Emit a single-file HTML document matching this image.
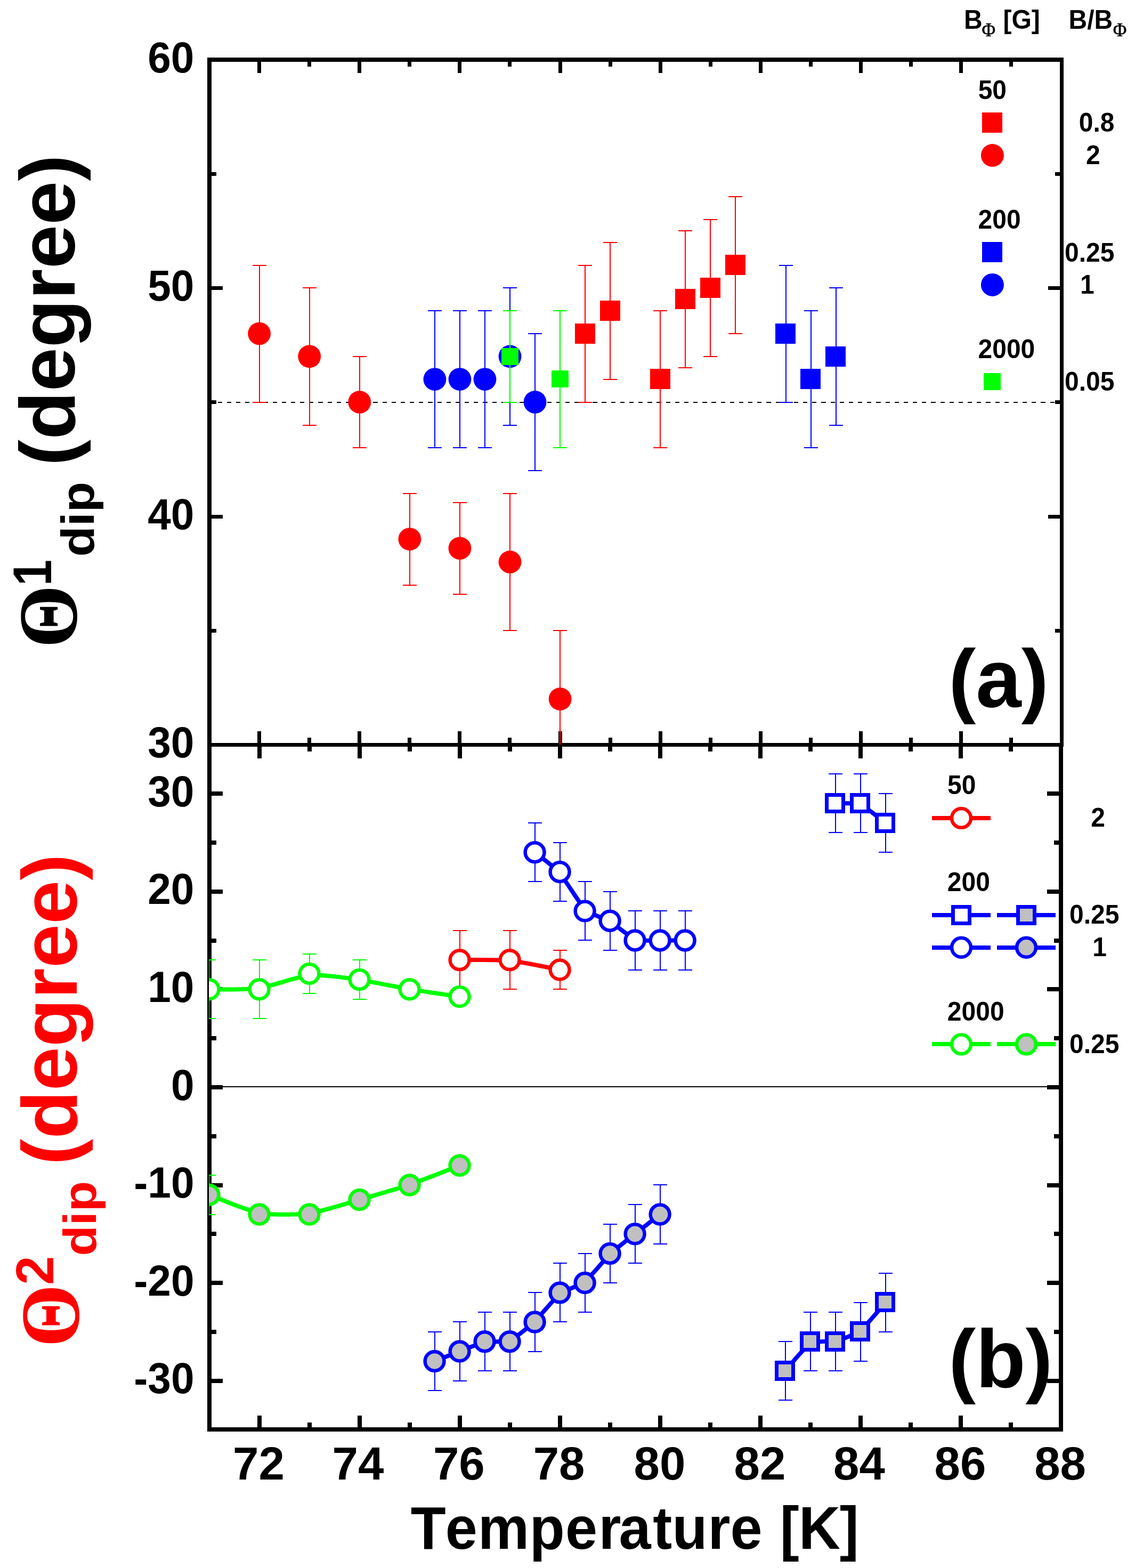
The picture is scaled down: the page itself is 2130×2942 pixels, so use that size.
<!DOCTYPE html>
<html lang="en"><head><meta charset="utf-8"><title>Dip angle versus temperature</title>
<style>html,body{margin:0;padding:0;background:#fff}body{width:2130px;height:2942px;overflow:hidden}svg{display:block}text{font-family:"Liberation Sans",sans-serif;font-weight:bold}.sym{font-family:"Liberation Serif",serif}.phi{font-family:"Liberation Serif",serif;font-weight:normal}.crisp{shape-rendering:crispEdges}</style></head><body>
<svg width="2130" height="2942" viewBox="0 0 2130 2942">
<rect width="2130" height="2942" fill="#fff"/>
<defs><clipPath id="c1"><rect x="392" y="112" width="1601" height="1285.5"/></clipPath><clipPath id="c2"><rect x="392" y="1397.5" width="1600" height="1284.5"/></clipPath></defs>
<g class="crisp" fill="#000">
<rect x="389" y="108" width="8" height="2578"/>
<rect x="1989" y="108" width="7" height="1293"/>
<rect x="1987" y="1394" width="8" height="1292"/>
<rect x="389" y="108" width="1607" height="8"/>
<rect x="389" y="1394" width="1607" height="7"/>
<rect x="389" y="2678" width="1606" height="8"/>
<rect x="483" y="116" width="7" height="21"/>
<rect x="483" y="1372" width="7" height="22"/>
<rect x="483" y="1401" width="8" height="22"/>
<rect x="483" y="2656" width="8" height="22"/>
<rect x="577" y="116" width="7" height="9"/>
<rect x="577" y="1384" width="7" height="10"/>
<rect x="577" y="1401" width="8" height="9"/>
<rect x="577" y="2669" width="8" height="9"/>
<rect x="671" y="116" width="7" height="21"/>
<rect x="671" y="1372" width="7" height="22"/>
<rect x="671" y="1401" width="8" height="22"/>
<rect x="671" y="2656" width="8" height="22"/>
<rect x="765" y="116" width="7" height="9"/>
<rect x="765" y="1384" width="7" height="10"/>
<rect x="765" y="1401" width="8" height="9"/>
<rect x="765" y="2669" width="8" height="9"/>
<rect x="859" y="116" width="7" height="21"/>
<rect x="859" y="1372" width="7" height="22"/>
<rect x="859" y="1401" width="8" height="22"/>
<rect x="859" y="2656" width="8" height="22"/>
<rect x="953" y="116" width="7" height="9"/>
<rect x="953" y="1384" width="7" height="10"/>
<rect x="953" y="1401" width="8" height="9"/>
<rect x="953" y="2669" width="8" height="9"/>
<rect x="1048" y="116" width="7" height="21"/>
<rect x="1048" y="1372" width="7" height="22"/>
<rect x="1047" y="1401" width="8" height="22"/>
<rect x="1047" y="2656" width="8" height="22"/>
<rect x="1142" y="116" width="7" height="9"/>
<rect x="1142" y="1384" width="7" height="10"/>
<rect x="1141" y="1401" width="8" height="9"/>
<rect x="1141" y="2669" width="8" height="9"/>
<rect x="1236" y="116" width="7" height="21"/>
<rect x="1236" y="1372" width="7" height="22"/>
<rect x="1235" y="1401" width="8" height="22"/>
<rect x="1235" y="2656" width="8" height="22"/>
<rect x="1330" y="116" width="7" height="9"/>
<rect x="1330" y="1384" width="7" height="10"/>
<rect x="1329" y="1401" width="8" height="9"/>
<rect x="1329" y="2669" width="8" height="9"/>
<rect x="1424" y="116" width="7" height="21"/>
<rect x="1424" y="1372" width="7" height="22"/>
<rect x="1423" y="1401" width="8" height="22"/>
<rect x="1423" y="2656" width="8" height="22"/>
<rect x="1518" y="116" width="7" height="9"/>
<rect x="1518" y="1384" width="7" height="10"/>
<rect x="1517" y="1401" width="8" height="9"/>
<rect x="1517" y="2669" width="8" height="9"/>
<rect x="1612" y="116" width="7" height="21"/>
<rect x="1612" y="1372" width="7" height="22"/>
<rect x="1611" y="1401" width="8" height="22"/>
<rect x="1611" y="2656" width="8" height="22"/>
<rect x="1706" y="116" width="7" height="9"/>
<rect x="1706" y="1384" width="7" height="10"/>
<rect x="1705" y="1401" width="8" height="9"/>
<rect x="1705" y="2669" width="8" height="9"/>
<rect x="1800" y="116" width="7" height="21"/>
<rect x="1800" y="1372" width="7" height="22"/>
<rect x="1799" y="1401" width="8" height="22"/>
<rect x="1799" y="2656" width="8" height="22"/>
<rect x="1894" y="116" width="7" height="9"/>
<rect x="1894" y="1384" width="7" height="10"/>
<rect x="1893" y="1401" width="8" height="9"/>
<rect x="1893" y="2669" width="8" height="9"/>
<rect x="397" y="1180" width="9" height="7"/>
<rect x="1980" y="1180" width="9" height="7"/>
<rect x="397" y="966" width="21" height="7"/>
<rect x="1967" y="966" width="22" height="7"/>
<rect x="397" y="751" width="9" height="7"/>
<rect x="1980" y="751" width="9" height="7"/>
<rect x="397" y="537" width="21" height="7"/>
<rect x="1967" y="537" width="22" height="7"/>
<rect x="397" y="323" width="9" height="7"/>
<rect x="1980" y="323" width="9" height="7"/>
<rect x="397" y="2587" width="21" height="8"/>
<rect x="1965" y="2587" width="22" height="8"/>
<rect x="397" y="2495" width="9" height="8"/>
<rect x="1978" y="2495" width="9" height="8"/>
<rect x="397" y="2403" width="21" height="8"/>
<rect x="1965" y="2403" width="22" height="8"/>
<rect x="397" y="2311" width="9" height="8"/>
<rect x="1978" y="2311" width="9" height="8"/>
<rect x="397" y="2220" width="21" height="8"/>
<rect x="1965" y="2220" width="22" height="8"/>
<rect x="397" y="2128" width="9" height="8"/>
<rect x="1978" y="2128" width="9" height="8"/>
<rect x="397" y="2036" width="21" height="8"/>
<rect x="1965" y="2036" width="22" height="8"/>
<rect x="397" y="1944" width="9" height="8"/>
<rect x="1978" y="1944" width="9" height="8"/>
<rect x="397" y="1852" width="21" height="8"/>
<rect x="1965" y="1852" width="22" height="8"/>
<rect x="397" y="1761" width="9" height="8"/>
<rect x="1978" y="1761" width="9" height="8"/>
<rect x="397" y="1669" width="21" height="8"/>
<rect x="1965" y="1669" width="22" height="8"/>
<rect x="397" y="1577" width="9" height="8"/>
<rect x="1978" y="1577" width="9" height="8"/>
<rect x="397" y="1485" width="21" height="8"/>
<rect x="1965" y="1485" width="22" height="8"/>
<rect x="397" y="2038" width="1590" height="2"/>
<rect x="397" y="754" width="3" height="2"/>
<rect x="409" y="754" width="8" height="2"/>
<rect x="426" y="754" width="8" height="2"/>
<rect x="443" y="754" width="8" height="2"/>
<rect x="460" y="754" width="8" height="2"/>
<rect x="477" y="754" width="8" height="2"/>
<rect x="494" y="754" width="9" height="2"/>
<rect x="512" y="754" width="8" height="2"/>
<rect x="529" y="754" width="8" height="2"/>
<rect x="546" y="754" width="8" height="2"/>
<rect x="563" y="754" width="8" height="2"/>
<rect x="580" y="754" width="8" height="2"/>
<rect x="597" y="754" width="9" height="2"/>
<rect x="615" y="754" width="8" height="2"/>
<rect x="632" y="754" width="8" height="2"/>
<rect x="649" y="754" width="8" height="2"/>
<rect x="666" y="754" width="8" height="2"/>
<rect x="683" y="754" width="8" height="2"/>
<rect x="700" y="754" width="9" height="2"/>
<rect x="718" y="754" width="8" height="2"/>
<rect x="735" y="754" width="8" height="2"/>
<rect x="752" y="754" width="8" height="2"/>
<rect x="769" y="754" width="8" height="2"/>
<rect x="786" y="754" width="8" height="2"/>
<rect x="803" y="754" width="9" height="2"/>
<rect x="821" y="754" width="8" height="2"/>
<rect x="838" y="754" width="8" height="2"/>
<rect x="855" y="754" width="8" height="2"/>
<rect x="872" y="754" width="8" height="2"/>
<rect x="889" y="754" width="8" height="2"/>
<rect x="906" y="754" width="9" height="2"/>
<rect x="924" y="754" width="8" height="2"/>
<rect x="941" y="754" width="8" height="2"/>
<rect x="958" y="754" width="8" height="2"/>
<rect x="975" y="754" width="8" height="2"/>
<rect x="992" y="754" width="8" height="2"/>
<rect x="1009" y="754" width="9" height="2"/>
<rect x="1027" y="754" width="8" height="2"/>
<rect x="1044" y="754" width="8" height="2"/>
<rect x="1061" y="754" width="8" height="2"/>
<rect x="1078" y="754" width="8" height="2"/>
<rect x="1095" y="754" width="8" height="2"/>
<rect x="1112" y="754" width="9" height="2"/>
<rect x="1129" y="754" width="9" height="2"/>
<rect x="1147" y="754" width="8" height="2"/>
<rect x="1164" y="754" width="8" height="2"/>
<rect x="1181" y="754" width="8" height="2"/>
<rect x="1198" y="754" width="8" height="2"/>
<rect x="1215" y="754" width="9" height="2"/>
<rect x="1232" y="754" width="9" height="2"/>
<rect x="1250" y="754" width="8" height="2"/>
<rect x="1267" y="754" width="8" height="2"/>
<rect x="1284" y="754" width="8" height="2"/>
<rect x="1301" y="754" width="8" height="2"/>
<rect x="1318" y="754" width="9" height="2"/>
<rect x="1335" y="754" width="9" height="2"/>
<rect x="1353" y="754" width="8" height="2"/>
<rect x="1370" y="754" width="8" height="2"/>
<rect x="1387" y="754" width="8" height="2"/>
<rect x="1404" y="754" width="8" height="2"/>
<rect x="1421" y="754" width="8" height="2"/>
<rect x="1438" y="754" width="9" height="2"/>
<rect x="1456" y="754" width="8" height="2"/>
<rect x="1473" y="754" width="8" height="2"/>
<rect x="1490" y="754" width="8" height="2"/>
<rect x="1507" y="754" width="8" height="2"/>
<rect x="1524" y="754" width="8" height="2"/>
<rect x="1541" y="754" width="9" height="2"/>
<rect x="1559" y="754" width="8" height="2"/>
<rect x="1576" y="754" width="8" height="2"/>
<rect x="1593" y="754" width="8" height="2"/>
<rect x="1610" y="754" width="8" height="2"/>
<rect x="1627" y="754" width="8" height="2"/>
<rect x="1644" y="754" width="9" height="2"/>
<rect x="1662" y="754" width="8" height="2"/>
<rect x="1679" y="754" width="8" height="2"/>
<rect x="1696" y="754" width="8" height="2"/>
<rect x="1713" y="754" width="8" height="2"/>
<rect x="1730" y="754" width="8" height="2"/>
<rect x="1747" y="754" width="9" height="2"/>
<rect x="1765" y="754" width="8" height="2"/>
<rect x="1782" y="754" width="8" height="2"/>
<rect x="1799" y="754" width="8" height="2"/>
<rect x="1816" y="754" width="8" height="2"/>
<rect x="1833" y="754" width="8" height="2"/>
<rect x="1850" y="754" width="9" height="2"/>
<rect x="1868" y="754" width="8" height="2"/>
<rect x="1885" y="754" width="8" height="2"/>
<rect x="1902" y="754" width="8" height="2"/>
<rect x="1919" y="754" width="8" height="2"/>
<rect x="1936" y="754" width="8" height="2"/>
<rect x="1953" y="754" width="9" height="2"/>
<rect x="1971" y="754" width="8" height="2"/>
<rect x="1988" y="754" width="1" height="2"/>
</g>
<g clip-path="url(#c1)">
<g class="crisp">
<rect x="815" y="583" width="2" height="257" fill="#0000ff"/>
<rect x="803" y="582" width="26" height="2" fill="#0000ff"/>
<rect x="803" y="839" width="26" height="2" fill="#0000ff"/>
<rect x="862" y="583" width="2" height="257" fill="#0000ff"/>
<rect x="850" y="582" width="26" height="2" fill="#0000ff"/>
<rect x="850" y="839" width="26" height="2" fill="#0000ff"/>
<rect x="909" y="583" width="2" height="257" fill="#0000ff"/>
<rect x="897" y="582" width="26" height="2" fill="#0000ff"/>
<rect x="897" y="839" width="26" height="2" fill="#0000ff"/>
<rect x="956" y="540" width="2" height="258" fill="#0000ff"/>
<rect x="944" y="539" width="26" height="2" fill="#0000ff"/>
<rect x="944" y="797" width="26" height="2" fill="#0000ff"/>
<rect x="1003" y="626" width="2" height="257" fill="#0000ff"/>
<rect x="991" y="625" width="26" height="2" fill="#0000ff"/>
<rect x="991" y="882" width="26" height="2" fill="#0000ff"/>
</g>
<circle cx="815.9" cy="711.6" r="21.4" fill="#0000ff"/>
<circle cx="862.94" cy="711.6" r="21.4" fill="#0000ff"/>
<circle cx="909.99" cy="711.6" r="21.4" fill="#0000ff"/>
<circle cx="957.03" cy="668.75" r="21.4" fill="#0000ff"/>
<circle cx="1004.07" cy="754.45" r="21.4" fill="#0000ff"/>
<g class="crisp">
<rect x="1474" y="498" width="2" height="257" fill="#0000ff"/>
<rect x="1462" y="497" width="26" height="2" fill="#0000ff"/>
<rect x="1462" y="754" width="26" height="2" fill="#0000ff"/>
<rect x="1521" y="583" width="2" height="257" fill="#0000ff"/>
<rect x="1509" y="582" width="26" height="2" fill="#0000ff"/>
<rect x="1509" y="839" width="26" height="2" fill="#0000ff"/>
<rect x="1568" y="540" width="2" height="258" fill="#0000ff"/>
<rect x="1556" y="539" width="26" height="2" fill="#0000ff"/>
<rect x="1556" y="797" width="26" height="2" fill="#0000ff"/>
<rect x="1455" y="607" width="38" height="38" fill="#0000ff"/>
<rect x="1502" y="692" width="38" height="38" fill="#0000ff"/>
<rect x="1549" y="650" width="38" height="38" fill="#0000ff"/>
</g>
<g class="crisp">
<rect x="956" y="583" width="2" height="172" fill="#00ff00"/>
<rect x="944" y="582" width="26" height="2" fill="#00ff00"/>
<rect x="944" y="754" width="26" height="2" fill="#00ff00"/>
<rect x="1050" y="583" width="2" height="257" fill="#00ff00"/>
<rect x="1038" y="582" width="26" height="2" fill="#00ff00"/>
<rect x="1038" y="839" width="26" height="2" fill="#00ff00"/>
<rect x="941" y="653" width="32" height="32" fill="#00ff00"/>
<rect x="1035" y="695" width="32" height="32" fill="#00ff00"/>
</g>
<g class="crisp">
<rect x="1097" y="498" width="2" height="257" fill="#ff0000"/>
<rect x="1085" y="497" width="26" height="2" fill="#ff0000"/>
<rect x="1085" y="754" width="26" height="2" fill="#ff0000"/>
<rect x="1144" y="455" width="2" height="257" fill="#ff0000"/>
<rect x="1132" y="454" width="26" height="2" fill="#ff0000"/>
<rect x="1132" y="711" width="26" height="2" fill="#ff0000"/>
<rect x="1238" y="583" width="2" height="257" fill="#ff0000"/>
<rect x="1226" y="582" width="26" height="2" fill="#ff0000"/>
<rect x="1226" y="839" width="26" height="2" fill="#ff0000"/>
<rect x="1285" y="433" width="2" height="257" fill="#ff0000"/>
<rect x="1273" y="432" width="26" height="2" fill="#ff0000"/>
<rect x="1273" y="689" width="26" height="2" fill="#ff0000"/>
<rect x="1332" y="412" width="2" height="257" fill="#ff0000"/>
<rect x="1320" y="411" width="26" height="2" fill="#ff0000"/>
<rect x="1320" y="668" width="26" height="2" fill="#ff0000"/>
<rect x="1379" y="369" width="2" height="257" fill="#ff0000"/>
<rect x="1367" y="368" width="26" height="2" fill="#ff0000"/>
<rect x="1367" y="625" width="26" height="2" fill="#ff0000"/>
<rect x="1079" y="607" width="38" height="38" fill="#ff0000"/>
<rect x="1126" y="564" width="38" height="38" fill="#ff0000"/>
<rect x="1220" y="692" width="38" height="38" fill="#ff0000"/>
<rect x="1267" y="542" width="38" height="38" fill="#ff0000"/>
<rect x="1314" y="521" width="38" height="38" fill="#ff0000"/>
<rect x="1361" y="478" width="38" height="38" fill="#ff0000"/>
</g>
<g class="crisp">
<rect x="486" y="498" width="2" height="257" fill="#ff0000"/>
<rect x="474" y="497" width="26" height="2" fill="#ff0000"/>
<rect x="474" y="754" width="26" height="2" fill="#ff0000"/>
<rect x="580" y="540" width="2" height="258" fill="#ff0000"/>
<rect x="568" y="539" width="26" height="2" fill="#ff0000"/>
<rect x="568" y="797" width="26" height="2" fill="#ff0000"/>
<rect x="674" y="669" width="2" height="171" fill="#ff0000"/>
<rect x="662" y="668" width="26" height="2" fill="#ff0000"/>
<rect x="662" y="839" width="26" height="2" fill="#ff0000"/>
<rect x="768" y="926" width="2" height="172" fill="#ff0000"/>
<rect x="756" y="925" width="26" height="2" fill="#ff0000"/>
<rect x="756" y="1097" width="26" height="2" fill="#ff0000"/>
<rect x="862" y="943" width="2" height="172" fill="#ff0000"/>
<rect x="850" y="942" width="26" height="2" fill="#ff0000"/>
<rect x="850" y="1114" width="26" height="2" fill="#ff0000"/>
<rect x="956" y="926" width="2" height="257" fill="#ff0000"/>
<rect x="944" y="925" width="26" height="2" fill="#ff0000"/>
<rect x="944" y="1182" width="26" height="2" fill="#ff0000"/>
<rect x="1050" y="1183" width="2" height="257" fill="#ff0000"/>
<rect x="1038" y="1182" width="26" height="2" fill="#ff0000"/>
<rect x="1038" y="1439" width="26" height="2" fill="#ff0000"/>
</g>
<circle cx="486.59" cy="625.9" r="21.4" fill="#ff0000"/>
<circle cx="580.68" cy="668.75" r="21.4" fill="#ff0000"/>
<circle cx="674.76" cy="754.45" r="21.4" fill="#ff0000"/>
<circle cx="768.85" cy="1011.55" r="21.4" fill="#ff0000"/>
<circle cx="862.94" cy="1028.69" r="21.4" fill="#ff0000"/>
<circle cx="957.03" cy="1054.4" r="21.4" fill="#ff0000"/>
<circle cx="1051.12" cy="1311.5" r="21.4" fill="#ff0000"/>
</g>
<g clip-path="url(#c2)">
<g class="crisp">
<rect x="862" y="1746" width="2" height="110" fill="#ff0000"/>
<rect x="850" y="1745" width="26" height="2" fill="#ff0000"/>
<rect x="850" y="1855" width="26" height="2" fill="#ff0000"/>
<rect x="956" y="1746" width="2" height="110" fill="#ff0000"/>
<rect x="944" y="1745" width="26" height="2" fill="#ff0000"/>
<rect x="944" y="1855" width="26" height="2" fill="#ff0000"/>
<rect x="1050" y="1783" width="2" height="73" fill="#ff0000"/>
<rect x="1038" y="1782" width="26" height="2" fill="#ff0000"/>
<rect x="1038" y="1855" width="26" height="2" fill="#ff0000"/>
</g>
<polyline points="870.39,1801.17 874.11,1801.16 879.22,1801.12 885.51,1801.09 892.74,1801.06 900.67,1801.05 909.08,1801.07 917.73,1801.15 926.39,1801.28 934.84,1801.49 942.84,1801.79 950.16,1802.19 956.57,1802.7 962.98,1803.44 970.3,1804.47 978.3,1805.74 986.75,1807.18 995.41,1808.73 1004.07,1810.35 1012.47,1811.97 1020.41,1813.52 1027.63,1814.96 1033.92,1816.23 1039.03,1817.26 1042.75,1818" fill="none" stroke="#ff0000" stroke-width="8" stroke-linejoin="round"/>
<circle cx="862.56" cy="1801.17" r="17.95" fill="#fff" stroke="#ff0000" stroke-width="6.5"/>
<circle cx="956.57" cy="1801.17" r="17.95" fill="#fff" stroke="#ff0000" stroke-width="6.5"/>
<circle cx="1050.58" cy="1819.53" r="17.95" fill="#fff" stroke="#ff0000" stroke-width="6.5"/>
<g class="crisp">
<rect x="1003" y="1544" width="2" height="110" fill="#0000ff"/>
<rect x="991" y="1543" width="26" height="2" fill="#0000ff"/>
<rect x="991" y="1653" width="26" height="2" fill="#0000ff"/>
<rect x="1050" y="1581" width="2" height="110" fill="#0000ff"/>
<rect x="1038" y="1580" width="26" height="2" fill="#0000ff"/>
<rect x="1038" y="1690" width="26" height="2" fill="#0000ff"/>
<rect x="1097" y="1654" width="2" height="110" fill="#0000ff"/>
<rect x="1085" y="1653" width="26" height="2" fill="#0000ff"/>
<rect x="1085" y="1763" width="26" height="2" fill="#0000ff"/>
<rect x="1144" y="1673" width="2" height="110" fill="#0000ff"/>
<rect x="1132" y="1672" width="26" height="2" fill="#0000ff"/>
<rect x="1132" y="1782" width="26" height="2" fill="#0000ff"/>
<rect x="1191" y="1709" width="2" height="111" fill="#0000ff"/>
<rect x="1179" y="1708" width="26" height="2" fill="#0000ff"/>
<rect x="1179" y="1819" width="26" height="2" fill="#0000ff"/>
<rect x="1238" y="1709" width="2" height="111" fill="#0000ff"/>
<rect x="1226" y="1708" width="26" height="2" fill="#0000ff"/>
<rect x="1226" y="1819" width="26" height="2" fill="#0000ff"/>
<rect x="1285" y="1709" width="2" height="111" fill="#0000ff"/>
<rect x="1273" y="1708" width="26" height="2" fill="#0000ff"/>
<rect x="1273" y="1819" width="26" height="2" fill="#0000ff"/>
</g>
<polyline points="1007.49,1602.27 1009.35,1603.69 1011.91,1605.63 1015.05,1608.01 1018.66,1610.77 1022.63,1613.85 1026.83,1617.19 1031.16,1620.71 1035.49,1624.37 1039.72,1628.09 1043.72,1631.81 1047.38,1635.46 1050.58,1638.99 1053.75,1642.96 1057.33,1647.85 1061.23,1653.47 1065.38,1659.62 1069.69,1666.11 1074.09,1672.75 1078.48,1679.34 1082.79,1685.68 1086.94,1691.6 1090.84,1696.88 1094.42,1701.34 1097.59,1704.78 1100.76,1707.54 1104.33,1710.1 1108.24,1712.48 1112.39,1714.7 1116.7,1716.78 1121.09,1718.74 1125.48,1720.61 1129.8,1722.4 1133.94,1724.14 1137.85,1725.85 1141.43,1727.55 1144.59,1729.26 1147.76,1731.25 1151.34,1733.71 1155.24,1736.54 1159.39,1739.63 1163.7,1742.88 1168.1,1746.19 1172.49,1749.44 1176.8,1752.55 1180.95,1755.4 1184.85,1757.89 1188.43,1759.93 1191.6,1761.39 1194.77,1762.41 1198.35,1763.21 1202.25,1763.8 1206.4,1764.22 1210.71,1764.49 1215.1,1764.64 1219.5,1764.69 1223.81,1764.68 1227.96,1764.62 1231.86,1764.54 1235.44,1764.48 1238.61,1764.45 1241.81,1764.45 1245.47,1764.45 1249.47,1764.45 1253.69,1764.45 1258.03,1764.45 1262.35,1764.45 1266.56,1764.45 1270.52,1764.45 1274.14,1764.45 1277.28,1764.45 1279.84,1764.45 1281.69,1764.45" fill="none" stroke="#0000ff" stroke-width="8" stroke-linejoin="round"/>
<circle cx="1003.58" cy="1599.21" r="17.95" fill="#fff" stroke="#0000ff" stroke-width="6.5"/>
<circle cx="1050.58" cy="1635.93" r="17.95" fill="#fff" stroke="#0000ff" stroke-width="6.5"/>
<circle cx="1097.59" cy="1709.37" r="17.95" fill="#fff" stroke="#0000ff" stroke-width="6.5"/>
<circle cx="1144.59" cy="1727.73" r="17.95" fill="#fff" stroke="#0000ff" stroke-width="6.5"/>
<circle cx="1191.6" cy="1764.45" r="17.95" fill="#fff" stroke="#0000ff" stroke-width="6.5"/>
<circle cx="1238.61" cy="1764.45" r="17.95" fill="#fff" stroke="#0000ff" stroke-width="6.5"/>
<circle cx="1285.61" cy="1764.45" r="17.95" fill="#fff" stroke="#0000ff" stroke-width="6.5"/>
<g class="crisp">
<rect x="815" y="2499" width="2" height="110" fill="#0000ff"/>
<rect x="803" y="2498" width="26" height="2" fill="#0000ff"/>
<rect x="803" y="2608" width="26" height="2" fill="#0000ff"/>
<rect x="862" y="2480" width="2" height="111" fill="#0000ff"/>
<rect x="850" y="2479" width="26" height="2" fill="#0000ff"/>
<rect x="850" y="2590" width="26" height="2" fill="#0000ff"/>
<rect x="909" y="2462" width="2" height="110" fill="#0000ff"/>
<rect x="897" y="2461" width="26" height="2" fill="#0000ff"/>
<rect x="897" y="2571" width="26" height="2" fill="#0000ff"/>
<rect x="956" y="2462" width="2" height="110" fill="#0000ff"/>
<rect x="944" y="2461" width="26" height="2" fill="#0000ff"/>
<rect x="944" y="2571" width="26" height="2" fill="#0000ff"/>
<rect x="1003" y="2425" width="2" height="111" fill="#0000ff"/>
<rect x="991" y="2424" width="26" height="2" fill="#0000ff"/>
<rect x="991" y="2535" width="26" height="2" fill="#0000ff"/>
<rect x="1050" y="2370" width="2" height="110" fill="#0000ff"/>
<rect x="1038" y="2369" width="26" height="2" fill="#0000ff"/>
<rect x="1038" y="2479" width="26" height="2" fill="#0000ff"/>
<rect x="1097" y="2352" width="2" height="110" fill="#0000ff"/>
<rect x="1085" y="2351" width="26" height="2" fill="#0000ff"/>
<rect x="1085" y="2461" width="26" height="2" fill="#0000ff"/>
<rect x="1144" y="2297" width="2" height="110" fill="#0000ff"/>
<rect x="1132" y="2296" width="26" height="2" fill="#0000ff"/>
<rect x="1132" y="2406" width="26" height="2" fill="#0000ff"/>
<rect x="1191" y="2260" width="2" height="110" fill="#0000ff"/>
<rect x="1179" y="2259" width="26" height="2" fill="#0000ff"/>
<rect x="1179" y="2369" width="26" height="2" fill="#0000ff"/>
<rect x="1238" y="2223" width="2" height="111" fill="#0000ff"/>
<rect x="1226" y="2222" width="26" height="2" fill="#0000ff"/>
<rect x="1226" y="2333" width="26" height="2" fill="#0000ff"/>
</g>
<polyline points="819.47,2552.4 821.33,2551.67 823.89,2550.68 827.03,2549.45 830.64,2548.04 834.61,2546.49 838.81,2544.85 843.14,2543.16 847.47,2541.46 851.69,2539.81 855.69,2538.25 859.35,2536.82 862.56,2535.57 865.73,2534.32 869.31,2532.89 873.21,2531.33 877.36,2529.68 881.67,2527.98 886.06,2526.29 890.45,2524.65 894.77,2523.1 898.91,2521.69 902.82,2520.46 906.4,2519.47 909.56,2518.74 912.73,2518.26 916.31,2517.92 920.21,2517.7 924.36,2517.55 928.67,2517.43 933.07,2517.31 937.46,2517.13 941.77,2516.87 945.92,2516.48 949.82,2515.92 953.4,2515.16 956.57,2514.15 959.74,2512.71 963.32,2510.75 967.22,2508.33 971.37,2505.54 975.68,2502.45 980.07,2499.14 984.47,2495.68 988.78,2492.16 992.93,2488.65 996.83,2485.23 1000.41,2481.98 1003.58,2478.96 1006.75,2475.73 1010.32,2471.87 1014.23,2467.52 1018.37,2462.81 1022.69,2457.88 1027.08,2452.85 1031.47,2447.88 1035.78,2443.09 1039.93,2438.62 1043.84,2434.6 1047.41,2431.17 1050.58,2428.47 1053.75,2426.24 1057.33,2424.11 1061.23,2422.06 1065.38,2420.08 1069.69,2418.15 1074.09,2416.23 1078.48,2414.31 1082.79,2412.38 1086.94,2410.4 1090.84,2408.35 1094.42,2406.22 1097.59,2403.99 1100.76,2401.29 1104.33,2397.86 1108.24,2393.84 1112.39,2389.37 1116.7,2384.58 1121.09,2379.61 1125.48,2374.58 1129.8,2369.65 1133.94,2364.94 1137.85,2360.59 1141.43,2356.73 1144.59,2353.5 1147.76,2350.51 1151.34,2347.32 1155.24,2343.97 1159.39,2340.52 1163.7,2337.02 1168.1,2333.51 1172.49,2330.06 1176.8,2326.7 1180.95,2323.49 1184.85,2320.47 1188.43,2317.71 1191.6,2315.25 1194.8,2312.75 1198.46,2309.89 1202.46,2306.76 1206.69,2303.46 1211.02,2300.08 1215.35,2296.7 1219.55,2293.41 1223.52,2290.32 1227.13,2287.49 1230.27,2285.04 1232.83,2283.04 1234.69,2281.59" fill="none" stroke="#0000ff" stroke-width="8" stroke-linejoin="round"/>
<circle cx="815.55" cy="2553.93" r="17.95" fill="#c0c0c0" stroke="#0000ff" stroke-width="6.5"/>
<circle cx="862.56" cy="2535.57" r="17.95" fill="#c0c0c0" stroke="#0000ff" stroke-width="6.5"/>
<circle cx="909.56" cy="2517.21" r="17.95" fill="#c0c0c0" stroke="#0000ff" stroke-width="6.5"/>
<circle cx="956.57" cy="2517.21" r="17.95" fill="#c0c0c0" stroke="#0000ff" stroke-width="6.5"/>
<circle cx="1003.58" cy="2480.49" r="17.95" fill="#c0c0c0" stroke="#0000ff" stroke-width="6.5"/>
<circle cx="1050.58" cy="2425.41" r="17.95" fill="#c0c0c0" stroke="#0000ff" stroke-width="6.5"/>
<circle cx="1097.59" cy="2407.05" r="17.95" fill="#c0c0c0" stroke="#0000ff" stroke-width="6.5"/>
<circle cx="1144.59" cy="2351.97" r="17.95" fill="#c0c0c0" stroke="#0000ff" stroke-width="6.5"/>
<circle cx="1191.6" cy="2315.25" r="17.95" fill="#c0c0c0" stroke="#0000ff" stroke-width="6.5"/>
<circle cx="1238.61" cy="2278.53" r="17.95" fill="#c0c0c0" stroke="#0000ff" stroke-width="6.5"/>
<g class="crisp">
<rect x="1567" y="1452" width="2" height="110" fill="#0000ff"/>
<rect x="1555" y="1451" width="26" height="2" fill="#0000ff"/>
<rect x="1555" y="1561" width="26" height="2" fill="#0000ff"/>
<rect x="1614" y="1452" width="2" height="110" fill="#0000ff"/>
<rect x="1602" y="1451" width="26" height="2" fill="#0000ff"/>
<rect x="1602" y="1561" width="26" height="2" fill="#0000ff"/>
<rect x="1661" y="1489" width="2" height="110" fill="#0000ff"/>
<rect x="1649" y="1488" width="26" height="2" fill="#0000ff"/>
<rect x="1649" y="1598" width="26" height="2" fill="#0000ff"/>
</g>
<polyline points="1571.56,1507.41 1573.42,1507.38 1575.98,1507.32 1579.12,1507.24 1582.74,1507.18 1586.7,1507.17 1590.91,1507.22 1595.23,1507.37 1599.56,1507.64 1603.79,1508.06 1607.79,1508.65 1611.45,1509.45 1614.65,1510.47 1617.86,1511.95 1621.52,1514.01 1625.52,1516.54 1629.74,1519.42 1634.07,1522.54 1638.4,1525.77 1642.6,1529 1646.57,1532.12 1650.18,1535 1653.33,1537.53 1655.88,1539.59 1657.74,1541.07" fill="none" stroke="#0000ff" stroke-width="8" stroke-linejoin="round"/>
<g class="crisp">
<rect x="1548" y="1488" width="38" height="38" fill="#0000ff"/>
<rect x="1555" y="1495" width="24" height="24" fill="#fff"/>
<rect x="1595" y="1488" width="38" height="38" fill="#0000ff"/>
<rect x="1602" y="1495" width="24" height="24" fill="#fff"/>
<rect x="1642" y="1525" width="38" height="38" fill="#0000ff"/>
<rect x="1649" y="1532" width="24" height="24" fill="#fff"/>
</g>
<g class="crisp">
<rect x="1473" y="2517" width="2" height="110" fill="#0000ff"/>
<rect x="1461" y="2516" width="26" height="2" fill="#0000ff"/>
<rect x="1461" y="2626" width="26" height="2" fill="#0000ff"/>
<rect x="1520" y="2462" width="2" height="110" fill="#0000ff"/>
<rect x="1508" y="2461" width="26" height="2" fill="#0000ff"/>
<rect x="1508" y="2571" width="26" height="2" fill="#0000ff"/>
<rect x="1567" y="2462" width="2" height="110" fill="#0000ff"/>
<rect x="1555" y="2461" width="26" height="2" fill="#0000ff"/>
<rect x="1555" y="2571" width="26" height="2" fill="#0000ff"/>
<rect x="1614" y="2444" width="2" height="110" fill="#0000ff"/>
<rect x="1602" y="2443" width="26" height="2" fill="#0000ff"/>
<rect x="1602" y="2553" width="26" height="2" fill="#0000ff"/>
<rect x="1661" y="2389" width="2" height="110" fill="#0000ff"/>
<rect x="1649" y="2388" width="26" height="2" fill="#0000ff"/>
<rect x="1649" y="2498" width="26" height="2" fill="#0000ff"/>
</g>
<polyline points="1477.55,2567.7 1479.41,2565.48 1481.97,2562.39 1485.11,2558.59 1488.72,2554.27 1492.69,2549.6 1496.89,2544.75 1501.22,2539.9 1505.55,2535.23 1509.78,2530.91 1513.78,2527.11 1517.44,2524.02 1520.64,2521.8 1523.81,2520.28 1527.39,2519.12 1531.29,2518.26 1535.44,2517.66 1539.75,2517.27 1544.14,2517.02 1548.54,2516.87 1552.85,2516.76 1557,2516.64 1560.9,2516.45 1564.48,2516.15 1567.65,2515.68 1570.82,2514.98 1574.39,2514.05 1578.3,2512.89 1582.45,2511.54 1586.76,2510.01 1591.15,2508.32 1595.54,2506.48 1599.85,2504.52 1604,2502.45 1607.91,2500.29 1611.48,2498.07 1614.65,2495.79 1617.86,2493.06 1621.52,2489.57 1625.52,2485.47 1629.74,2480.94 1634.07,2476.14 1638.4,2471.21 1642.6,2466.34 1646.57,2461.68 1650.18,2457.38 1653.33,2453.63 1655.88,2450.56 1657.74,2448.36" fill="none" stroke="#0000ff" stroke-width="8" stroke-linejoin="round"/>
<g class="crisp">
<rect x="1454" y="2553" width="38" height="38" fill="#0000ff"/>
<rect x="1461" y="2560" width="24" height="24" fill="#c0c0c0"/>
<rect x="1501" y="2498" width="38" height="38" fill="#0000ff"/>
<rect x="1508" y="2505" width="24" height="24" fill="#c0c0c0"/>
<rect x="1548" y="2498" width="38" height="38" fill="#0000ff"/>
<rect x="1555" y="2505" width="24" height="24" fill="#c0c0c0"/>
<rect x="1595" y="2479" width="38" height="38" fill="#0000ff"/>
<rect x="1602" y="2486" width="24" height="24" fill="#c0c0c0"/>
<rect x="1642" y="2424" width="38" height="38" fill="#0000ff"/>
<rect x="1649" y="2431" width="24" height="24" fill="#c0c0c0"/>
</g>
<g class="crisp">
<rect x="391" y="1801" width="2" height="110" fill="#00ff00"/>
<rect x="379" y="1800" width="26" height="2" fill="#00ff00"/>
<rect x="379" y="1910" width="26" height="2" fill="#00ff00"/>
<rect x="486" y="1801" width="2" height="110" fill="#00ff00"/>
<rect x="474" y="1800" width="26" height="2" fill="#00ff00"/>
<rect x="474" y="1910" width="26" height="2" fill="#00ff00"/>
<rect x="580" y="1790" width="2" height="74" fill="#00ff00"/>
<rect x="568" y="1789" width="26" height="2" fill="#00ff00"/>
<rect x="568" y="1863" width="26" height="2" fill="#00ff00"/>
<rect x="674" y="1801" width="2" height="74" fill="#00ff00"/>
<rect x="662" y="1800" width="26" height="2" fill="#00ff00"/>
<rect x="662" y="1874" width="26" height="2" fill="#00ff00"/>
</g>
<polyline points="400.33,1856.25 404.05,1856.27 409.17,1856.32 415.45,1856.38 422.68,1856.43 430.61,1856.44 439.02,1856.4 447.67,1856.28 456.34,1856.07 464.78,1855.73 472.78,1855.26 480.1,1854.62 486.51,1853.8 492.85,1852.61 500,1850.94 507.81,1848.89 516.11,1846.57 524.73,1844.07 533.52,1841.5 542.3,1838.96 550.93,1836.55 559.22,1834.37 567.03,1832.53 574.19,1831.12 580.52,1830.24 586.86,1829.85 594.02,1829.8 601.82,1830.05 610.12,1830.55 618.74,1831.26 627.53,1832.13 636.32,1833.14 644.94,1834.22 653.24,1835.34 661.04,1836.46 668.2,1837.52 674.54,1838.5 680.87,1839.54 688.03,1840.78 695.83,1842.2 704.13,1843.74 712.75,1845.38 721.54,1847.06 730.33,1848.74 738.95,1850.4 747.25,1851.98 755.05,1853.44 762.21,1854.75 768.55,1855.87 774.96,1856.93 782.28,1858.11 790.28,1859.35 798.72,1860.64 807.39,1861.94 816.04,1863.23 824.45,1864.47 832.38,1865.63 839.61,1866.68 845.89,1867.59 851.01,1868.33 854.72,1868.87" fill="none" stroke="#00ff00" stroke-width="8" stroke-linejoin="round"/>
<circle cx="392.5" cy="1856.25" r="17.95" fill="#fff" stroke="#00ff00" stroke-width="6.5"/>
<circle cx="486.51" cy="1856.25" r="17.95" fill="#fff" stroke="#00ff00" stroke-width="6.5"/>
<circle cx="580.52" cy="1826.87" r="17.95" fill="#fff" stroke="#00ff00" stroke-width="6.5"/>
<circle cx="674.54" cy="1837.89" r="17.95" fill="#fff" stroke="#00ff00" stroke-width="6.5"/>
<circle cx="768.55" cy="1856.25" r="17.95" fill="#fff" stroke="#00ff00" stroke-width="6.5"/>
<circle cx="862.56" cy="1870.02" r="17.95" fill="#fff" stroke="#00ff00" stroke-width="6.5"/>
<g class="crisp">
<rect x="391" y="2205" width="2" height="74" fill="#00ff00"/>
<rect x="379" y="2204" width="26" height="2" fill="#00ff00"/>
<rect x="379" y="2278" width="26" height="2" fill="#00ff00"/>
</g>
<polyline points="400.33,2244.87 404.05,2246.35 409.17,2248.41 415.45,2250.94 422.68,2253.82 430.61,2256.94 439.02,2260.17 447.67,2263.4 456.34,2266.52 464.78,2269.4 472.78,2271.93 480.1,2273.99 486.51,2275.47 492.85,2276.52 500,2277.36 507.81,2278.01 516.11,2278.47 524.73,2278.76 533.52,2278.86 542.3,2278.81 550.93,2278.59 559.22,2278.21 567.03,2277.69 574.19,2277.03 580.52,2276.23 586.86,2275.15 594.02,2273.65 601.82,2271.81 610.12,2269.69 618.74,2267.37 627.53,2264.9 636.32,2262.37 644.94,2259.83 653.24,2257.36 661.04,2255.01 668.2,2252.87 674.54,2250.99 680.87,2249.14 688.03,2247.06 695.83,2244.79 704.13,2242.38 712.75,2239.85 721.54,2237.27 730.33,2234.66 738.95,2232.06 747.25,2229.53 755.05,2227.09 762.21,2224.8 768.55,2222.68 774.96,2220.44 782.28,2217.78 790.28,2214.8 798.72,2211.61 807.39,2208.29 816.04,2204.95 824.45,2201.68 832.38,2198.57 839.61,2195.74 845.89,2193.26 851.01,2191.25 854.72,2189.79" fill="none" stroke="#00ff00" stroke-width="8" stroke-linejoin="round"/>
<circle cx="392.5" cy="2241.81" r="17.95" fill="#c0c0c0" stroke="#00ff00" stroke-width="6.5"/>
<circle cx="486.51" cy="2278.53" r="17.95" fill="#c0c0c0" stroke="#00ff00" stroke-width="6.5"/>
<circle cx="580.52" cy="2278.53" r="17.95" fill="#c0c0c0" stroke="#00ff00" stroke-width="6.5"/>
<circle cx="674.54" cy="2250.99" r="17.95" fill="#c0c0c0" stroke="#00ff00" stroke-width="6.5"/>
<circle cx="768.55" cy="2223.45" r="17.95" fill="#c0c0c0" stroke="#00ff00" stroke-width="6.5"/>
<circle cx="862.56" cy="2186.73" r="17.95" fill="#c0c0c0" stroke="#00ff00" stroke-width="6.5"/>
</g>
<g class="crisp">
<rect x="1843" y="211" width="38" height="38" fill="#ff0000"/>
<rect x="1843" y="454" width="38" height="38" fill="#0000ff"/>
<rect x="1846" y="700" width="32" height="32" fill="#00ff00"/>
</g>
<circle cx="1862.4" cy="291.5" r="21.5" fill="#ff0000"/>
<circle cx="1862.4" cy="534.4" r="21.5" fill="#0000ff"/>
<g class="crisp">
<rect x="1749" y="1531" width="110" height="8" fill="#ff0000"/>
</g>
<circle cx="1804" cy="1534.9" r="17.95" fill="#fff" stroke="#ff0000" stroke-width="6.5"/>
<g class="crisp">
<rect x="1749" y="1713" width="110" height="8" fill="#0000ff"/>
</g>
<g class="crisp">
<rect x="1785" y="1698" width="38" height="38" fill="#0000ff"/>
<rect x="1792" y="1705" width="24" height="24" fill="#fff"/>
</g>
<g class="crisp">
<rect x="1871" y="1713" width="110" height="8" fill="#0000ff"/>
</g>
<g class="crisp">
<rect x="1907" y="1698" width="38" height="38" fill="#0000ff"/>
<rect x="1914" y="1705" width="24" height="24" fill="#c0c0c0"/>
</g>
<g class="crisp">
<rect x="1749" y="1774" width="110" height="8" fill="#0000ff"/>
</g>
<circle cx="1804" cy="1777.8" r="17.95" fill="#fff" stroke="#0000ff" stroke-width="6.5"/>
<g class="crisp">
<rect x="1871" y="1774" width="110" height="8" fill="#0000ff"/>
</g>
<circle cx="1926" cy="1777.8" r="17.95" fill="#c0c0c0" stroke="#0000ff" stroke-width="6.5"/>
<g class="crisp">
<rect x="1749" y="1955" width="110" height="8" fill="#00ff00"/>
</g>
<circle cx="1804" cy="1959.4" r="17.95" fill="#fff" stroke="#00ff00" stroke-width="6.5"/>
<g class="crisp">
<rect x="1871" y="1955" width="110" height="8" fill="#00ff00"/>
</g>
<circle cx="1926" cy="1959.4" r="17.95" fill="#c0c0c0" stroke="#00ff00" stroke-width="6.5"/>
<text transform="translate(277.3 135.79) scale(0.979 1.025)" font-size="80">60</text>
<text transform="translate(277.3 564.29) scale(0.979 1.025)" font-size="80">50</text>
<text transform="translate(277.3 992.79) scale(0.979 1.025)" font-size="80">40</text>
<text transform="translate(277.3 1421.29) scale(0.979 1.025)" font-size="80">30</text>
<text transform="translate(277.3 1512.84) scale(0.979 1.025)" font-size="80">30</text>
<text transform="translate(277.3 1696.44) scale(0.979 1.025)" font-size="80">20</text>
<text transform="translate(277.3 1880.04) scale(0.979 1.025)" font-size="80">10</text>
<text transform="translate(320.97 2063.64) scale(0.979 1.025)" font-size="80">0</text>
<text transform="translate(251.26 2247.24) scale(0.979 1.025)" font-size="80">-10</text>
<text transform="translate(251.26 2430.84) scale(0.979 1.025)" font-size="80">-20</text>
<text transform="translate(251.26 2614.44) scale(0.979 1.025)" font-size="80">-30</text>
<text transform="translate(437.01 2776.4)" font-size="87">72</text>
<text transform="translate(623.51 2776.4)" font-size="87">74</text>
<text transform="translate(812.95 2775.53)" font-size="87">76</text>
<text transform="translate(1000.64 2775.53)" font-size="87">78</text>
<text transform="translate(1189.54 2775.53)" font-size="87">80</text>
<text transform="translate(1377.56 2775.53)" font-size="87">82</text>
<text transform="translate(1564.06 2775.53)" font-size="87">84</text>
<text transform="translate(1753.5 2775.53)" font-size="87">86</text>
<text transform="translate(1941.2 2775.53)" font-size="87">88</text>
<text transform="translate(0 2906.3) scale(1 1.04)" x="770.71 835.73 897 993.76 1061.03 1123.39 1161.41 1225.14 1261.6 1328.49 1370.62 1435.42 1463.85 1498.93 1575.64" font-size="108">Temperature [K]</text>
<text transform="translate(1780.23 1327.18) scale(1 0.9991)" font-size="153.5">(a)</text>
<text transform="translate(1780.25 2603.18) scale(1 1.0026)" font-size="152.95">(b)</text>
<text transform="translate(1808.9 53.7) scale(1 1.03)" font-size="48">B<tspan class="phi" font-size="35" dx="-1" dy="13.6" stroke="#000" stroke-width="0.6">Φ</tspan><tspan dy="-13.6" dx="1"> [G]</tspan></text>
<text transform="translate(2005.6 53.7) scale(1 1.03)" font-size="48">B/B<tspan class="phi" font-size="35" dx="0.5" dy="13.6" stroke="#000" stroke-width="0.6">Φ</tspan></text>
<text transform="translate(1835.64 185.61) scale(1 1.023)" font-size="48">50</text>
<text transform="translate(1835.52 429.11) scale(1 1.023)" font-size="48">200</text>
<text transform="translate(1835.52 671.81) scale(1 1.023)" font-size="48">2000</text>
<text transform="translate(2024.72 247.21) scale(1 1.023)" font-size="48">0.8</text>
<text transform="translate(2038.02 308.2) scale(1 1.023)" font-size="48">2</text>
<text transform="translate(1997.96 490.61) scale(1 1.023)" font-size="48">0.25</text>
<text transform="translate(2026.88 550.8) scale(1 1.023)" font-size="48">1</text>
<text transform="translate(1997.96 733.11) scale(1 1.023)" font-size="48">0.05</text>
<text transform="translate(1777.94 1489.91) scale(1 1.023)" font-size="48">50</text>
<text transform="translate(1777.82 1671.71) scale(1 1.023)" font-size="48">200</text>
<text transform="translate(1777.82 1915.01) scale(1 1.023)" font-size="48">2000</text>
<text transform="translate(2047.32 1551.3) scale(1 1.023)" font-size="48">2</text>
<text transform="translate(2006.96 1732.51) scale(1 1.023)" font-size="48">0.25</text>
<text transform="translate(2050.28 1793.7) scale(1 1.023)" font-size="48">1</text>
<text transform="translate(2006.96 1975.51) scale(1 1.023)" font-size="48">0.25</text>
<text transform="translate(142.53 1215.7) rotate(-90) scale(1 1.0346)" font-size="152.06" class="sym">Θ</text>
<text transform="translate(96 1099) rotate(-90) scale(0.9 1.035)" font-size="98">1</text>
<text transform="translate(176.01 1044.55) rotate(-90) scale(1 0.9292)" font-size="93.83">dip</text>
<text transform="translate(139.64 874.1) rotate(-90) scale(1 0.9851)" font-size="147.91">(degree)</text>
<text transform="translate(146.53 2527.7) rotate(-90) scale(1 1.0346)" font-size="152.06" class="sym" fill="#ff0000">Θ</text>
<text transform="translate(99.9 2410.81) rotate(-90) scale(1 1.0345)" font-size="97.29" fill="#ff0000">2</text>
<text transform="translate(180.01 2356.55) rotate(-90) scale(1 0.9292)" font-size="93.83" fill="#ff0000">dip</text>
<text transform="translate(143.64 2186.1) rotate(-90) scale(1 0.9851)" font-size="147.91" fill="#ff0000">(degree)</text>
</svg></body></html>
